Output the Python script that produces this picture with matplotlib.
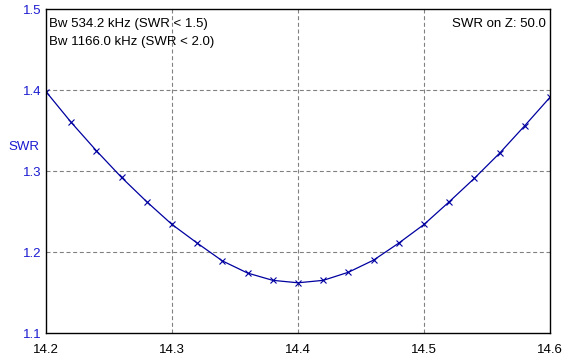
import matplotlib.pyplot as plt
import numpy as np

plt.rcParams["font.family"] = ["Liberation Sans", "DejaVu Sans"]

# frequency (MHz) and SWR
freq = [14.20, 14.22, 14.24, 14.26, 14.28, 14.30, 14.32, 14.34, 14.36, 14.38, 14.40,
        14.42, 14.44, 14.46, 14.48, 14.50, 14.52, 14.54, 14.56, 14.58, 14.60]
swr = [1.398, 1.360, 1.325, 1.292, 1.262, 1.234, 1.211, 1.189, 1.174, 1.165, 1.162,
       1.165, 1.175, 1.190, 1.211, 1.234, 1.262, 1.291, 1.322, 1.356, 1.391]

x_ticks = [14.2, 14.3, 14.4, 14.5, 14.6]
y_ticks = [1.1, 1.2, 1.3, 1.4, 1.5]
info_lines = ["Bw 534.2 kHz (SWR < 1.5)", "Bw 1166.0 kHz (SWR < 2.0)"]
z_text = "SWR on Z: 50.0"

line_col = "#0000a0"
label_col = "#1a1ad0"

fig = plt.figure(figsize=(5.75, 3.61), dpi=100)
ax = fig.add_axes([46 / 575, 28 / 361, 504 / 575, 324 / 361])

ax.plot(freq, swr, color=line_col, lw=0.9, marker="x", ms=5, mew=0.8)

ax.set_xlim(14.2, 14.6)
ax.set_ylim(1.1, 1.5)
ax.set_xticks(x_ticks)
ax.set_xticklabels([f"{t:.1f}" for t in x_ticks])
ax.set_yticks(y_ticks)
ax.set_yticklabels([f"{t:.1f}" for t in y_ticks], color=label_col)
ax.tick_params(axis="x", length=0, pad=8, labelsize=9.5)
ax.tick_params(axis="y", length=0, pad=3, labelsize=9.5)

for v in x_ticks[1:-1]:
    ax.axvline(v, color="#808080", lw=0.8, dashes=(3.6, 2.4), zorder=0)
for v in y_ticks[1:-1]:
    ax.axhline(v, color="#808080", lw=0.8, dashes=(3.6, 2.4), zorder=0)

for s in ax.spines.values():
    s.set_color("black")
    s.set_linewidth(1.0)

ax.text(0.006, 0.953, info_lines[0], transform=ax.transAxes, fontsize=9.5, va="center", ha="left")
ax.text(0.006, 0.897, info_lines[1], transform=ax.transAxes, fontsize=9.5, va="center", ha="left")
ax.text(0.992, 0.953, z_text, transform=ax.transAxes, fontsize=9.5, va="center", ha="right")

fig.text(8 / 575, 1 - 147 / 361, "SWR", color=label_col, fontsize=9.5, va="center", ha="left")

fig.savefig("out.png", dpi=100)
